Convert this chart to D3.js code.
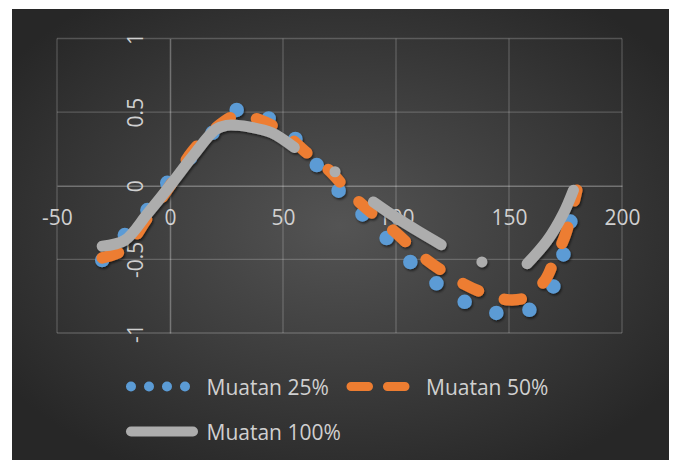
<!DOCTYPE html>
<html>
<head>
<meta charset="utf-8">
<script src="https://cdn.jsdelivr.net/npm/d3@7"></script>
<style>
  html, body { margin: 0; padding: 0; background: #ffffff; }
  svg { display: block; }
  text { font-family: "Open Sans", "Noto Sans", sans-serif; }
</style>
</head>
<body>
<svg id="chart" width="673" height="460"></svg>
<script>
// Muatan 25% (round-dot line)
const blueX = [-30, -20, -10, -1.5, 8, 18.5, 29.5, 43.5, 56, 65.5, 75, 85.5, 96, 106.5, 118, 130.5, 144.5, 158.5, 169.5, 174, 177, 179.5];
const blueY = [-0.505, -0.335, -0.165, 0.015, 0.175, 0.355, 0.515, 0.458, 0.31, 0.13, -0.04, -0.2, -0.358, -0.52, -0.664, -0.789, -0.864, -0.846, -0.687, -0.471, -0.256, -0.018];

// Muatan 50% (dashed line)
const orangeX = [-30, -20, -10, 0, 10, 20, 30, 40, 50, 60, 70, 80, 90, 100, 110, 120, 130, 140, 150, 158, 166, 170, 175, 180];
const orangeY = [-0.49, -0.43, -0.22, 0.0, 0.235, 0.39, 0.48, 0.445, 0.365, 0.23, 0.11, -0.055, -0.195, -0.32, -0.46, -0.574, -0.667, -0.735, -0.775, -0.755, -0.64, -0.505, -0.33, -0.03];

// Muatan 100% (solid line, with missing readings)
const grayX = [-30, -20, -10, 0, 10, 20, 25, 30, 35, 45, 55, 64, 73, 82, 90, 100, 110, 120, 129, 138, 147, 158, 167, 174, 178.5];
const grayY = [-0.41, -0.37, -0.19, 0.0, 0.2, 0.38, 0.41, 0.41, 0.40, 0.36, 0.26, null, 0.095, null, -0.11, -0.215, -0.31, -0.40, null, -0.517, null, -0.53, -0.37, -0.19, -0.03];

const xTicks = [-50, 0, 50, 100, 150, 200];
const xTickLabels = ["-50", "0", "50", "100", "150", "200"];
const yTicks = [-1, -0.5, 0, 0.5, 1];
const yTickLabels = ["-1", "-0.5", "0", "0.5", "1"];

const seriesNames = ["Muatan 25%", "Muatan 50%", "Muatan 100%"];
const seriesColors = ["#5b9bd5", "#ed7d31", "#adadad"];

const svg = d3.select("#chart");
const defs = svg.append("defs");

// chart background: dark radial gradient
const grad = defs.append("radialGradient").attr("id", "bg")
  .attr("cx", "50%").attr("cy", "48%").attr("r", "62%");
grad.append("stop").attr("offset", "0%").attr("stop-color", "#545454");
grad.append("stop").attr("offset", "100%").attr("stop-color", "#272727");

const shadow = defs.append("filter").attr("id", "shadow")
  .attr("x", "-10%").attr("y", "-10%").attr("width", "120%").attr("height", "120%");
shadow.append("feDropShadow").attr("dx", 1.2).attr("dy", 1.8)
  .attr("stdDeviation", 1.3).attr("flood-color", "#000").attr("flood-opacity", 0.55);

svg.append("rect").attr("x", 12).attr("y", 9).attr("width", 657).attr("height", 451)
  .attr("fill", "url(#bg)");

const x = d3.scaleLinear().domain([-50, 200]).range([57, 622]);
const y = d3.scaleLinear().domain([-1, 1]).range([333, 38.5]);

// gridlines
const grid = svg.append("g");
grid.selectAll("line.v").data(xTicks.filter(d => d !== 0)).join("line")
  .attr("x1", d => x(d)).attr("x2", d => x(d))
  .attr("y1", y(1)).attr("y2", y(-1))
  .attr("stroke", "rgba(255,255,255,0.2)").attr("stroke-width", 1.3);
grid.selectAll("line.h").data(yTicks.filter(d => d !== 0)).join("line")
  .attr("x1", x(-50)).attr("x2", x(200))
  .attr("y1", d => y(d)).attr("y2", d => y(d))
  .attr("stroke", "rgba(255,255,255,0.2)").attr("stroke-width", 1.3);

// axes crossing at zero
const xAxis = d3.axisBottom(x).tickValues(xTicks)
  .tickFormat((d, i) => xTickLabels[i]).tickSize(0).tickPadding(24.5);
const xg = svg.append("g").attr("transform", `translate(0,${y(0)})`).call(xAxis);
xg.select(".domain").attr("stroke", "rgba(255,255,255,0.3)").attr("stroke-width", 1.5);
xg.selectAll("text").attr("fill", "#d0d0d0").attr("font-size", 21)
  .attr("font-family", "'Open Sans', 'Noto Sans', sans-serif");

const yAxis = d3.axisLeft(y).tickValues(yTicks)
  .tickFormat((d, i) => yTickLabels[i]).tickSize(0);
const yg = svg.append("g").attr("transform", `translate(${x(0)},0)`).call(yAxis);
yg.select(".domain").attr("stroke", "rgba(255,255,255,0.3)").attr("stroke-width", 1.5);
yg.selectAll("text").attr("fill", "#d0d0d0").attr("font-size", 21)
  .attr("font-family", "'Open Sans', 'Noto Sans', sans-serif")
  .attr("x", 0).attr("dy", 0).attr("text-anchor", "middle")
  .attr("transform", "translate(-27,0) rotate(-90)");

// series
const toPoints = (xs, ys) => xs.map((v, i) => ({ x: v, y: ys[i] }));
const line = d3.line()
  .defined(d => d.y !== null)
  .x(d => x(d.x)).y(d => y(d.y))
  .curve(d3.curveCatmullRom.alpha(0.5));

const plot = svg.append("g").attr("filter", "url(#shadow)");

const blue = toPoints(blueX, blueY);
const bluePath = plot.append("path").datum(blue).attr("d", line)
  .attr("fill", "none").attr("stroke", seriesColors[0])
  .attr("stroke-width", 14.5).attr("stroke-linecap", "round");
const blueLen = bluePath.node().getTotalLength();
bluePath.attr("stroke-dasharray", `0 ${blueLen / (blue.length - 1)}`);

plot.append("path").datum(toPoints(orangeX, orangeY)).attr("d", line)
  .attr("fill", "none").attr("stroke", seriesColors[1])
  .attr("stroke-width", 11.5).attr("stroke-linecap", "round")
  .attr("stroke-dasharray", "17 27.3");

// gray series: each run of readings drawn on its own, lone readings as round caps
const gray = toPoints(grayX, grayY);
const runs = [];
let cur = [];
gray.forEach(d => {
  if (d.y === null) { if (cur.length) runs.push(cur); cur = []; }
  else cur.push(d);
});
if (cur.length) runs.push(cur);
plot.selectAll("path.gray").data(runs).join("path")
  .attr("class", "gray")
  .attr("d", r => r.length > 1 ? line(r) : `M${x(r[0].x)},${y(r[0].y)}h0.01`)
  .attr("fill", "none").attr("stroke", seriesColors[2])
  .attr("stroke-width", 11).attr("stroke-linecap", "round")
  .attr("stroke-linejoin", "round");

// legend
const legend = svg.append("g");
const legendItems = [
  { name: seriesNames[0], x: 131, y: 386.5, len: 54.5, width: 10, dash: "0 18", color: seriesColors[0], tx: 206.5 },
  { name: seriesNames[1], x: 351, y: 386.5, len: 54, width: 9, dash: "17.5 19", color: seriesColors[1], tx: 426 },
  { name: seriesNames[2], x: 131, y: 431.5, len: 62, width: 10, dash: null, color: seriesColors[2], tx: 206.5 }
];
legendItems.forEach(it => {
  legend.append("line")
    .attr("x1", it.x).attr("x2", it.x + it.len)
    .attr("y1", it.y).attr("y2", it.y)
    .attr("stroke", it.color).attr("stroke-width", it.width)
    .attr("stroke-linecap", "round")
    .attr("stroke-dasharray", it.dash);
  legend.append("text")
    .attr("x", it.tx).attr("y", it.y + 8)
    .attr("fill", "#d0d0d0").attr("font-size", 21)
    .text(it.name);
});
</script>
</body>
</html>
